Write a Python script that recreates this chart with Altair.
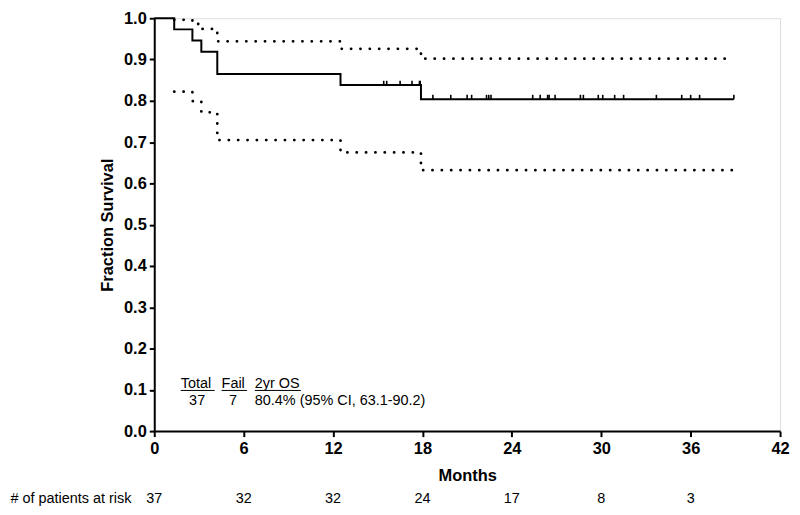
import altair as alt
import pandas as pd

# ---- data ----
surv_time = [0, 1.34, 2.56, 3.16, 4.23, 12.5, 17.9, 38.9]
surv_val = [1.0, 0.973, 0.946, 0.919, 0.865, 0.838, 0.804, 0.804]

upper_time = [1.34, 2.56, 3.16, 4.23, 12.5, 17.9, 38.9]
upper_val = [0.996, 0.986, 0.974, 0.944, 0.926, 0.902, 0.902]

lower_time = [1.34, 2.56, 3.16, 4.23, 12.5, 17.9, 38.9]
lower_val = [0.822, 0.799, 0.772, 0.705, 0.675, 0.632, 0.632]

censor_time = [15.4, 15.6, 16.5, 17.3, 17.8, 17.85,
               18.7, 19.9, 21.0, 21.3, 22.3, 22.45, 22.6,
               25.4, 25.9, 26.4, 26.5, 26.9, 28.6, 28.8, 29.8,
               30.1, 30.9, 31.5, 33.7, 35.4, 36.0, 36.6, 38.9]
censor_val = [0.838] * 6 + [0.804] * 23

x_ticks = [0, 6, 12, 18, 24, 30, 36, 42]
y_ticks = [0.0, 0.1, 0.2, 0.3, 0.4, 0.5, 0.6, 0.7, 0.8, 0.9, 1.0]

risk_months = [0, 6, 12, 18, 24, 30, 36]
risk_counts = ["37", "32", "32", "24", "17", "8", "3"]
risk_label = ["# of patients at risk"]

ann_text = ["Total", "Fail", "2yr OS", "37", "7", "80.4% (95% CI, 63.1-90.2)"]
ann_t = [1.78, 4.52, 6.75, 2.34, 5.01, 6.75]
ann_s = [0.104, 0.104, 0.104, 0.064, 0.064, 0.064]

ul_t = [1.78, 4.52, 6.75]
ul_t2 = [4.05, 6.23, 9.84]
ul_s = [0.0985, 0.0985, 0.0985]

FONT = "Liberation Sans"

surv_df = pd.DataFrame({"t": surv_time, "s": surv_val})
up_df = pd.DataFrame({"t": upper_time, "s": upper_val})
lo_df = pd.DataFrame({"t": lower_time, "s": lower_val})
cen_df = pd.DataFrame({"t": censor_time, "s": censor_val})
risk_df = pd.DataFrame({"t": risk_months, "n": risk_counts})
lab_df = pd.DataFrame({"label": risk_label})
ann_df = pd.DataFrame({"t": ann_t, "s": ann_s, "txt": ann_text})
ul_df = pd.DataFrame({"t": ul_t, "t2": ul_t2, "s": ul_s})

xscale = alt.Scale(domain=[0, 42], nice=False, zero=False)
yscale = alt.Scale(domain=[0, 1], nice=False)

X = alt.X("t:Q", scale=xscale, axis=alt.Axis(
    title="Months", values=x_ticks, format="d", grid=False,
    labelFlush=False, labelOverlap=False,
    labelFont=FONT, labelFontWeight="bold", labelFontSize=16.5, labelColor="black",
    labelPadding=4, tickSize=5.5, tickWidth=2, tickColor="black",
    domainWidth=2, domainColor="black",
    titleFont=FONT, titleFontWeight="bold", titleFontSize=16.5, titleColor="black",
    titlePadding=11))
Y = alt.Y("s:Q", scale=yscale, axis=alt.Axis(
    title="Fraction Survival", values=y_ticks, format=".1f", grid=False,
    labelFlush=False, labelOverlap=False,
    labelFont=FONT, labelFontWeight="bold", labelFontSize=16.5, labelColor="black",
    labelPadding=3, tickSize=5, tickWidth=2, tickColor="black",
    domainWidth=2, domainColor="black",
    titleFont=FONT, titleFontWeight="bold", titleFontSize=16.5, titleColor="black",
    titlePadding=8))

surv = alt.Chart(surv_df).mark_line(interpolate="step-after", color="black", strokeWidth=2).encode(x=X, y=Y)

dot_style = dict(interpolate="step-after", color="black", strokeWidth=2.8,
                 strokeCap="round", strokeDash=[0.1, 9.3])
upper = alt.Chart(up_df).mark_line(**dot_style).encode(x=X, y=Y)
lower = alt.Chart(lo_df).mark_line(**dot_style).encode(x=X, y=Y)

cens = alt.Chart(cen_df).transform_calculate(top="datum.s + 0.0105").mark_rule(
    color="black", strokeWidth=1.6).encode(x=X, y=Y, y2="top:Q")

risk = alt.Chart(risk_df).mark_text(font=FONT, fontSize=14.5, color="black",
                                    baseline="middle", align="center").encode(
    x=X, y=alt.value(483), text="n:N")
risk_lab = alt.Chart(lab_df).mark_text(font=FONT, fontSize=14.5, color="black",
                                       baseline="middle", align="right").encode(
    x=alt.value(-23), y=alt.value(483), text="label:N")

ann = alt.Chart(ann_df).mark_text(font=FONT, fontSize=14.5, color="black",
                                  baseline="alphabetic", align="left").encode(
    x=X, y=Y, text="txt:N")
ul = alt.Chart(ul_df).mark_rule(color="black", strokeWidth=1).encode(x=X, x2="t2:Q", y=Y)

chart = alt.layer(surv, upper, lower, cens, ann, ul, risk, risk_lab).properties(
    width=629, height=415,
    autosize=alt.AutoSizeParams(type="none"),
    padding={"left": 147, "top": 9, "right": 12, "bottom": 76},
).configure_view(stroke=None).configure(background="white")

chart.save("out.html", embed_options={"renderer": "svg", "actions": False})
